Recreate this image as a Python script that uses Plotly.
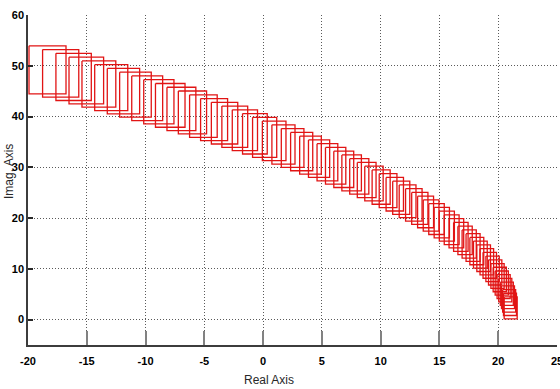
import plotly.graph_objects as go

# Root-locus style points (centres of the red boxes)
real_part = [-18.34, -17.22, -16.12, -15.04, -13.97, -12.92, -11.88, -10.86, -9.86, -8.87,
             -7.90, -6.95, -6.01, -5.08, -4.17, -3.28, -2.41, -1.55, -0.70, 0.13,
             0.94, 1.73, 2.51, 3.28, 4.03, 4.76, 5.47, 6.17, 6.86, 7.53,
             8.18, 8.81, 9.43, 10.04, 10.63, 11.20, 11.75, 12.29, 12.82, 13.33,
             13.82, 14.29, 14.75, 15.20, 15.63, 16.04, 16.44, 16.82, 17.18, 17.53,
             17.86, 18.18, 18.48, 18.76, 19.03, 19.28, 19.52, 19.74, 19.94, 20.13,
             20.30, 20.46, 20.60, 20.73, 20.83, 20.93, 21.00, 21.06]
imag_part = [49.2, 48.5, 47.8, 47.1, 46.4, 45.7, 45.0, 44.3, 43.6, 42.9,
             42.2, 41.5, 40.8, 40.1, 39.4, 38.7, 38.0, 37.3, 36.6, 35.9,
             35.2, 34.5, 33.8, 33.1, 32.4, 31.7, 31.0, 30.3, 29.6, 28.9,
             28.2, 27.5, 26.8, 26.1, 25.4, 24.7, 24.0, 23.3, 22.6, 21.9,
             21.2, 20.5, 19.8, 19.1, 18.4, 17.7, 17.0, 16.3, 15.6, 14.9,
             14.2, 13.5, 12.8, 12.1, 11.4, 10.7, 10.0, 9.3, 8.6, 7.9,
             7.2, 6.5, 5.8, 5.1, 4.4, 3.7, 3.0, 2.3]
x_ticks = [-20, -15, -10, -5, 0, 5, 10, 15, 20, 25]
y_ticks = [0, 10, 20, 30, 40, 50, 60]

W, H = 560, 389
ML, MR, MT, MB = 28, 3, 15, 44
X_RANGE = [-20, 25]
Y_RANGE = [-5, 60]
px_per_x = (W - ML - MR) / (X_RANGE[1] - X_RANGE[0])
px_per_y = (H - MT - MB) / (Y_RANGE[1] - Y_RANGE[0])

# box (marker) size styling in pixels, shrinking along the locus
y_lo, y_hi = min(imag_part), max(imag_part)
bx, by = [], []
for cx, cy in zip(real_part, imag_part):
    t = (cy - y_lo) / (y_hi - y_lo)
    w_px = 13 + 24 * t ** 2.3
    h_px = 22 + 26 * t ** 1.1
    hw = w_px / 2 / px_per_x
    hh = h_px / 2 / px_per_y
    bx += [cx - hw, cx + hw, cx + hw, cx - hw, cx - hw, None]
    by += [cy + hh, cy + hh, cy - hh, cy - hh, cy + hh, None]

fig = go.Figure()
fig.add_trace(go.Scatter(x=bx, y=by, mode="lines",
                         line=dict(color="rgb(225,20,20)", width=1.3),
                         hoverinfo="skip", showlegend=False))

tick_font = dict(family="Liberation Sans, Arial, sans-serif",
                 size=11, color="black", weight="bold")
common = dict(showgrid=True, gridcolor="rgb(90,90,90)", griddash="1px,2px", gridwidth=1,
              zeroline=False, showline=True, linecolor="rgb(60,60,60)", linewidth=1.5,
              automargin=False, tickfont=tick_font, ticklabeloverflow="allow")
fig.update_xaxes(range=X_RANGE, tickvals=x_ticks, ticktext=[str(v) for v in x_ticks],
                 ticks="inside", ticklen=14, tickcolor="rgb(130,130,130)", tickwidth=1.5,
                 ticklabelstandoff=5, **common)
fig.update_yaxes(range=Y_RANGE, tickvals=y_ticks, ticktext=[str(v) for v in y_ticks],
                 ticks="inside", ticklen=5, tickcolor="rgb(40,40,40)", tickwidth=1.5,
                 **common)

label_font = dict(family="Liberation Sans, Arial, sans-serif",
                  size=12, color="rgb(40,40,40)")
fig.add_annotation(text="Real Axis", xref="paper", yref="paper",
                   x=(269 - ML) / (W - ML - MR), y=-(380 - (H - MB)) / (H - MT - MB),
                   showarrow=False, font=label_font, xanchor="center", yanchor="middle")
fig.add_annotation(text="Imag. Axis", xref="paper", yref="paper",
                   x=-(ML - 9) / (W - ML - MR), y=((H - MB) - 172) / (H - MT - MB),
                   showarrow=False, font=label_font, textangle=-90,
                   xanchor="center", yanchor="middle")

fig.update_layout(width=W, height=H,
                  margin=dict(l=ML, r=MR, t=MT, b=MB, autoexpand=False),
                  paper_bgcolor="white", plot_bgcolor="white")
fig.write_html("out.html", config={"displayModeBar": False},
               post_script="document.documentElement.style.margin='0';"
                           "document.body.style.margin='0';"
                           "document.body.style.padding='0';"
                           "document.body.style.overflow='hidden';")
